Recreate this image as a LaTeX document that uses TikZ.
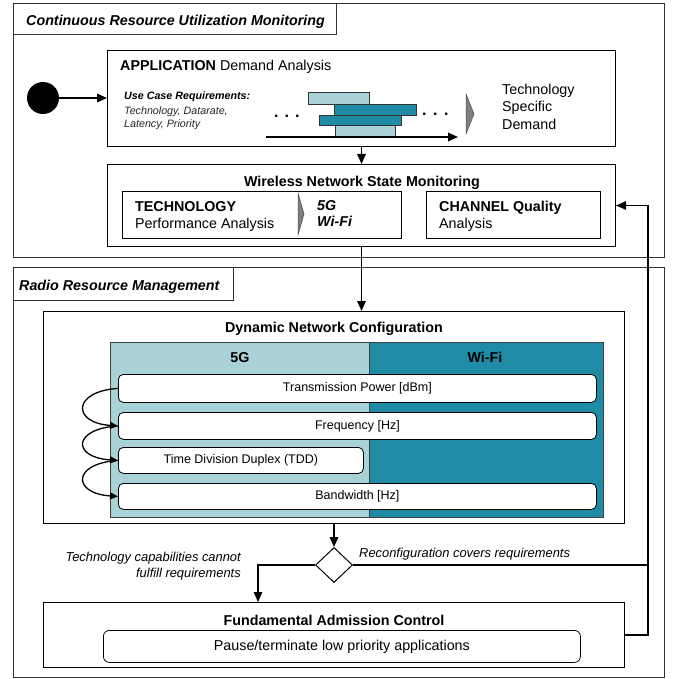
\documentclass[tikz,border=0pt]{standalone}
\usepackage{fontspec}
\setmainfont{Liberation Sans}
\usetikzlibrary{arrows.meta,shapes.geometric}
\definecolor{lteal}{HTML}{A8D2D6}
\definecolor{dteal}{HTML}{1F8BA5}
\definecolor{chev}{HTML}{7F7F7F}
\newcommand{\fmain}{\fontsize{14.3}{17.5}\selectfont}
\newcommand{\fitem}{\fontsize{12.5}{15}\selectfont}
\newcommand{\fsmall}{\fontsize{10.7}{13.5}\selectfont}
\newcommand{\flab}{\fontsize{12.9}{15.5}\selectfont}
\begin{document}
\begin{tikzpicture}[x=1pt,y=-1pt,
  box/.style={draw=black, line width=1pt, fill=white, inner sep=0pt, anchor=north west},
  outer/.style={draw=black!80, line width=1.3pt, inner sep=0pt, anchor=north west},
  rbox/.style={draw=black, line width=0.8pt, fill=white, rounded corners=5pt, inner sep=0pt, anchor=north west, font=\fitem},
  panel/.style={draw=black!75, line width=0.8pt, inner sep=0pt, anchor=north west},
  arr/.style={draw=black, line width=1.5pt, -{Triangle[length=10pt,width=8.5pt]}},
  carr/.style={draw=black, line width=1.3pt, -{Triangle[length=8pt,width=7pt]}},
  ln/.style={draw=black, line width=1.5pt},
  bar/.style={draw=black!80, line width=0.7pt},
  chevron/.style={fill=chev, draw=black!70, line width=0.5pt},
  txt/.style={inner sep=0pt, anchor=base west},
  ]
\useasboundingbox (0,0) rectangle (677,679);

% ---------- outer frames ----------
\node[outer, minimum width=651pt, minimum height=254pt] (mon) at (13,3) {};
\node[outer, minimum width=323pt, minimum height=31pt] (montab) at (13,3) {};
\node[txt, font=\fmain\bfseries\itshape] (montitle) at (26,26) {Continuous Resource Utilization Monitoring};

\node[outer, minimum width=651pt, minimum height=410pt] (rrm) at (13,267) {};
\node[outer, minimum width=220pt, minimum height=33pt] (rrmtab) at (13,267) {};
\node[txt, font=\fmain\bfseries\itshape] (rrmtitle) at (19,290) {Radio Resource Management};

% ---------- application demand analysis ----------
\node[box, minimum width=508pt, minimum height=96pt] (app) at (107,50) {};
\node[txt, font=\fmain] (apptitle) at (120,70.7) {\textbf{APPLICATION} Demand Analysis};
\node[txt, font=\fsmall\bfseries\itshape] (uc) at (124,99.3) {Use Case Requirements:};
\node[txt, font=\fsmall\itshape, text=black!85] (uc1) at (124,114.3) {Technology, Datarate,};
\node[txt, font=\fsmall\itshape, text=black!85] (uc2) at (124,127.7) {Latency, Priority};
\node[txt, font=\fontsize{16}{18}\selectfont\bfseries] (dots1) at (274,118) {.\kern6pt.\kern6pt.};
\node[txt, font=\fontsize{16}{18}\selectfont\bfseries] (dots2) at (422,115.5) {.\kern6.5pt.\kern6.5pt.};

\draw[bar, fill=lteal] (308,92) rectangle (369,104);
\draw[bar, fill=dteal] (334,104) rectangle (416,115);
\draw[bar, fill=dteal] (319,115) rectangle (401,125);
\draw[bar, fill=lteal] (335,125) rectangle (395,137);
\coordinate (tl0) at (266,137);
\coordinate (tl1) at (458,137);
\draw[arr, line width=1.8pt] (tl0) -- (tl1);
\filldraw[chevron] (466,94) -- (474,114) -- (466,134) -- cycle;

\node[txt, font=\fmain] (tsd1) at (502,94.3) {Technology};
\node[txt, font=\fmain] (tsd2) at (502,111.8) {Specific};
\node[txt, font=\fmain] (tsd3) at (502,129.3) {Demand};

\node[circle, fill=black, minimum size=32pt, inner sep=0pt] (start) at (43,98) {};
\draw[arr] (start) -- (app.west |- start);

% ---------- wireless network state monitoring ----------
\node[box, minimum width=508pt, minimum height=82pt] (wns) at (107,164) {};
\draw[arr] (app.south) -- (wns.north);
\node[inner sep=0pt, anchor=base, font=\fmain\bfseries] (wnstitle) at (362,186) {Wireless Network State Monitoring};
\node[box, minimum width=279pt, minimum height=47pt] (tech) at (122,191) {};
\node[box, minimum width=174pt, minimum height=47pt] (chan) at (426,191) {};
\node[txt, font=\fmain\bfseries] (techA) at (135,211.5) {TECHNOLOGY};
\node[txt, font=\fmain] (techB) at (135,228) {Performance Analysis};
\filldraw[chevron] (298,193) -- (304,214) -- (298,235) -- cycle;
\node[txt, font=\fmain\bfseries\itshape] (g5) at (317,210) {5G};
\node[txt, font=\fmain\bfseries\itshape] (wifi) at (317,226.5) {Wi-Fi};
\node[txt, font=\fmain\bfseries] (chanA) at (439,211.5) {CHANNEL Quality};
\node[txt, font=\fmain] (chanB) at (439,228) {Analysis};

% ---------- dynamic network configuration ----------
\node[box, minimum width=581pt, minimum height=212pt] (dnc) at (43,311) {};
\draw[arr] (wns.south) -- (wns.south |- dnc.north);
\node[inner sep=0pt, anchor=base, font=\fmain\bfseries] (dnctitle) at (334,332) {Dynamic Network Configuration};
\node[panel, fill=lteal, minimum width=259pt, minimum height=175pt] (p5g) at (110,342) {};
\node[panel, fill=dteal, minimum width=234pt, minimum height=175pt] (pwifi) at (369,342) {};
\node[inner sep=0pt, anchor=base, font=\fmain\bfseries] (h5g) at (240,362) {5G};
\node[inner sep=0pt, anchor=base, font=\fmain\bfseries] (hwifi) at (485,362) {Wi-Fi};

\node[rbox, minimum width=478pt, minimum height=28pt] (tp) at (118,374) {Transmission Power [dBm]};
\node[rbox, minimum width=478pt, minimum height=27pt] (fr) at (118,412) {Frequency [Hz]};
\node[rbox, minimum width=245pt, minimum height=26pt] (tdd) at (118,447) {Time Division Duplex (TDD)};
\node[rbox, minimum width=478pt, minimum height=26pt] (bw) at (118,483) {Bandwidth [Hz]};

\draw[carr] (tp.west) .. controls +(-46,3) and +(-46,-3) .. (fr.west);
\draw[carr] (fr.west) .. controls +(-46,3) and +(-46,-3) .. (tdd.west);
\draw[carr] (tdd.west) .. controls +(-46,3) and +(-46,-3) .. (bw.west);

% ---------- decision ----------
\node[diamond, draw=black, line width=1pt, fill=white, inner sep=0pt, minimum width=37pt, minimum height=35pt] (dia) at (334,565) {};
\draw[arr] (dnc.south -| dia.north) -- (dia.north);

\node[box, minimum width=581pt, minimum height=65pt] (fac) at (43,602) {};
\node[inner sep=0pt, anchor=base, font=\fmain\bfseries] (factitle) at (334,625) {Fundamental Admission Control};
\node[rbox, font=\fmain, minimum width=477pt, minimum height=32pt, rounded corners=6pt] (pause) at (103,630) {Pause/terminate low priority applications};

\coordinate (fl) at (258,602);
\draw[arr] (dia.west) -| (fl);
\coordinate (rcol) at (648,0);
\draw[ln] (dia.east) -- (dia.east -| rcol);
\draw[arr] (fac.east) -- (fac.east -| rcol) -- (wns.east -| rcol) -- (wns.east);

\node[inner sep=0pt, anchor=base east, font=\flab\itshape] (nolab1) at (241,561) {Technology capabilities cannot};
\node[inner sep=0pt, anchor=base east, font=\flab\itshape] (nolab2) at (241,577) {fulfill requirements};
\node[txt, font=\flab\itshape] (yeslab) at (359,557.3) {Reconfiguration covers requirements};

\end{tikzpicture}
\end{document}
